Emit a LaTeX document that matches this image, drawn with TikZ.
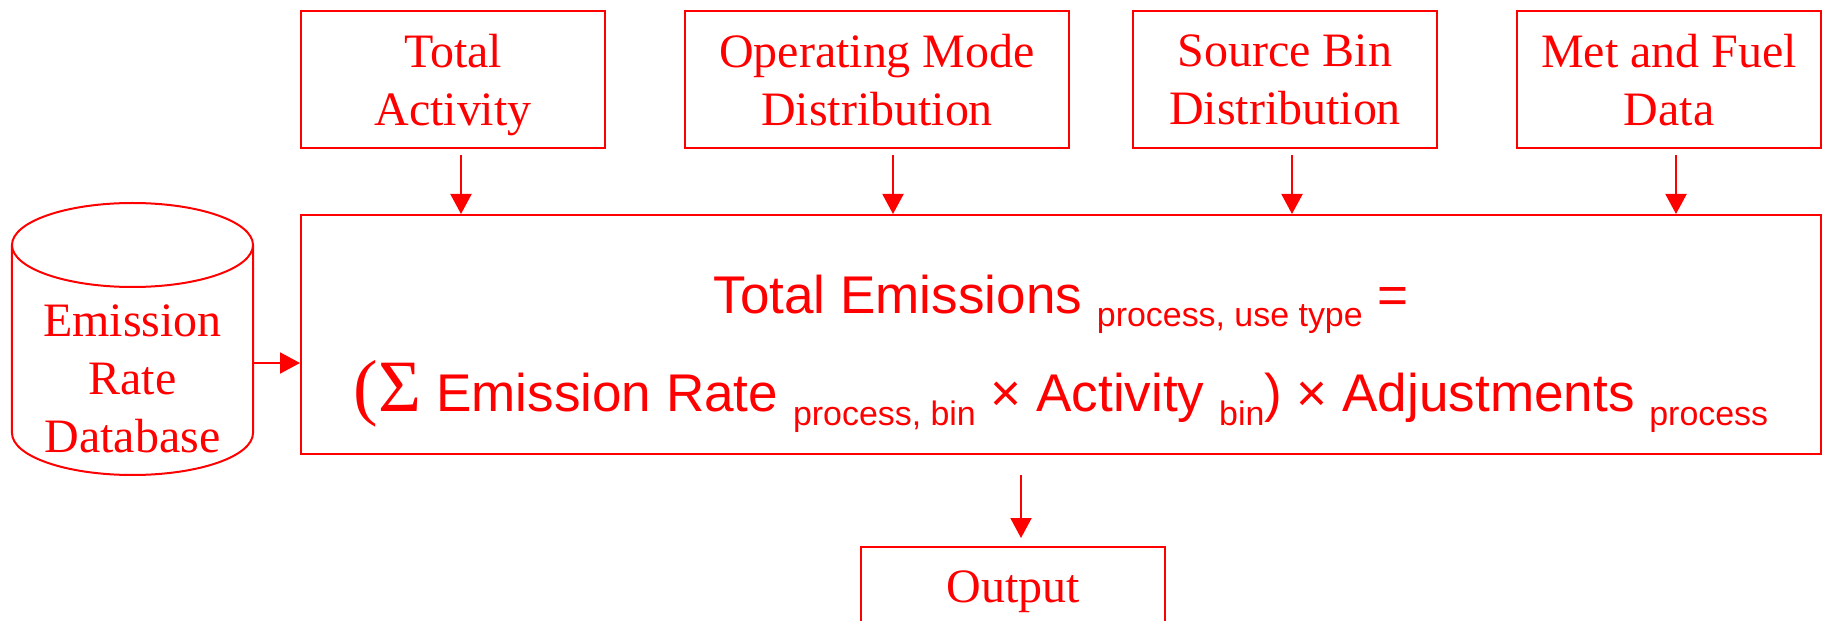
\documentclass[tikz,border=0pt]{standalone}
\usepackage{fontspec}
\setmainfont{Liberation Serif}
\newfontfamily\eqfont{Liberation Sans}
\usetikzlibrary{arrows.meta}
\newcommand{\sbs}[1]{\raisebox{-0.27cm}{\fontsize{19.3pt}{20pt}\selectfont #1}}

\begin{document}
\begin{tikzpicture}
[   inbox/.style={draw=red,line width=0.04cm,text=red,align=center,minimum height=#1,text depth=0pt,
        font=\fontsize{27.3pt}{33pt}\selectfont},
    arr/.style={draw=red,line width=0.04cm,-{Triangle[length=4mm,width=4.2mm]}},
    cyl/.style={draw=red,line width=0.04cm},
]
    \useasboundingbox (0,0) rectangle (36.6,-12.42);
    \clip (0,0) rectangle (36.6,-12.42);

    \node[inbox=4.78cm,minimum width=30.4cm,font=\eqfont\fontsize{30.2pt}{56.3pt}\selectfont] (main) at (21.22,-6.69)
        {\rule{0pt}{1.12cm}Total Emissions \sbs{process, use type} =\\
         {\rmfamily\fontsize{42pt}{42pt}\selectfont (Σ} Emission Rate \sbs{process, bin} × Activity \sbs{bin}) × Adjustments \sbs{process}};

    \foreach \x/\w/\s/\n/\t in {9.06/6.08/1.6/ta/{Total\\Activity},17.54/7.68/3.2/omd/{Operating Mode\\Distribution},
                                25.70/6.08/1.4/sbd/{Source Bin\\Distribution},33.38/6.08/1.4/mfd/{Met and Fuel\\Data}}
    {   \node[inbox=2.74cm,minimum width=\w cm] (\n) at (\x,-1.59) {\t};
        \draw[arr] ([xshift=\s mm,yshift=-1.2mm]\n.south) -- ([xshift=\s mm]\n.south |- main.north);
    }

    \node[inbox=3.84cm,minimum width=4.82cm,draw=none,outer sep=0pt] (db) at (2.65,-7.58) {Emission\\Rate\\Database};
    \draw[cyl] ([yshift=7.6mm]db.north) ellipse [x radius=2.41cm,y radius=8.4mm];
    \draw[cyl] ([yshift=7.6mm]db.north west) -- ([yshift=8.4mm]db.south west)
        arc[start angle=180,end angle=360,x radius=2.41cm,y radius=8.4mm] -- ([yshift=7.6mm]db.north east);
    \draw[arr] ([yshift=3.2mm]db.east) -- ([yshift=3.2mm]db.east -| main.west);

    \node[inbox=1.6cm,minimum width=6.08cm,anchor=north] (out) at (20.26,-10.92) {Output};
    \draw[arr] ([xshift=1.6mm,yshift=-4mm]out.north |- main.south) -- ([xshift=1.6mm,yshift=1.6mm]out.north);
\end{tikzpicture}
\end{document}
